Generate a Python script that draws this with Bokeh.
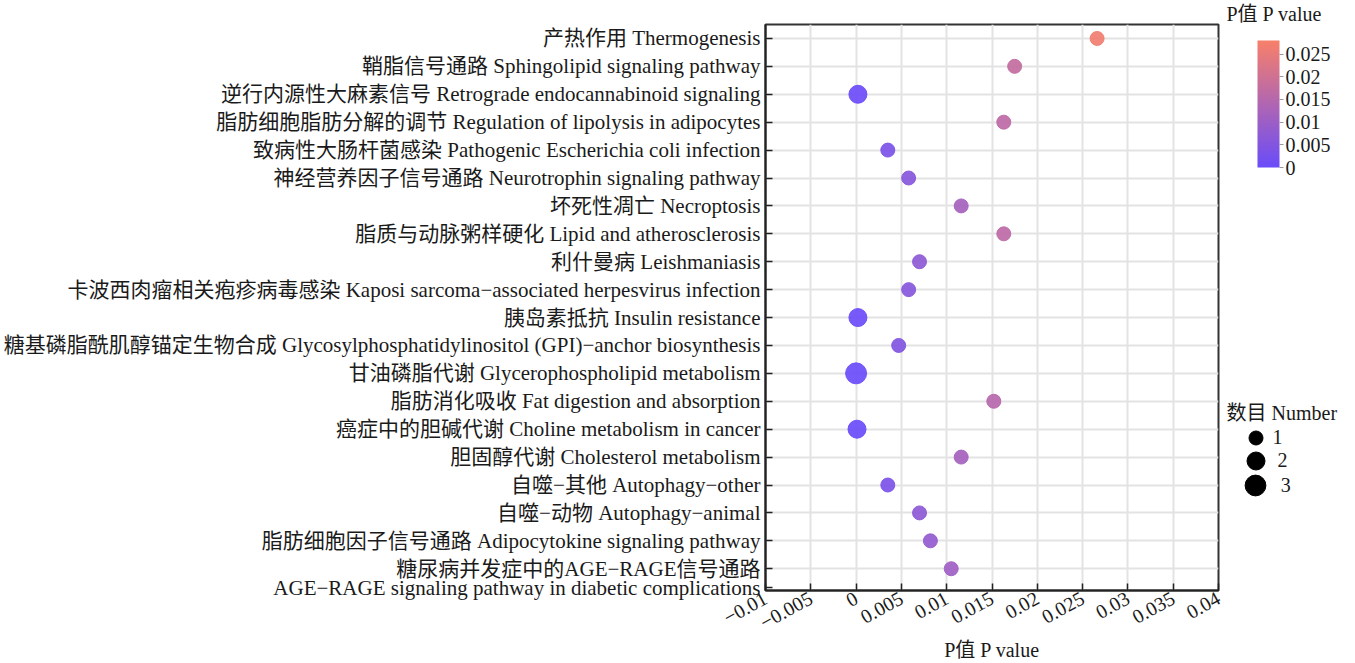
from bokeh.plotting import figure
from bokeh.layouts import row
from bokeh.models import (Range1d, FixedTicker, LinearColorMapper, ColorBar, Label,
                          Legend, LegendItem, ColumnDataSource)
from bokeh.transform import transform
from bokeh.embed import file_html
from bokeh.resources import INLINE

# ---------------- data ----------------
pathways = [
    "产热作用 Thermogenesis",
    "鞘脂信号通路 Sphingolipid signaling pathway",
    "逆行内源性大麻素信号 Retrograde endocannabinoid signaling",
    "脂肪细胞脂肪分解的调节 Regulation of lipolysis in adipocytes",
    "致病性大肠杆菌感染 Pathogenic Escherichia coli infection",
    "神经营养因子信号通路 Neurotrophin signaling pathway",
    "坏死性凋亡 Necroptosis",
    "脂质与动脉粥样硬化 Lipid and atherosclerosis",
    "利什曼病 Leishmaniasis",
    "卡波西肉瘤相关疱疹病毒感染 Kaposi sarcoma−associated herpesvirus infection",
    "胰岛素抵抗 Insulin resistance",
    "糖基磷脂酰肌醇锚定生物合成 Glycosylphosphatidylinositol (GPI)−anchor biosynthesis",
    "甘油磷脂代谢 Glycerophospholipid metabolism",
    "脂肪消化吸收 Fat digestion and absorption",
    "癌症中的胆碱代谢 Choline metabolism in cancer",
    "胆固醇代谢 Cholesterol metabolism",
    "自噬−其他 Autophagy−other",
    "自噬−动物 Autophagy−animal",
    "脂肪细胞因子信号通路 Adipocytokine signaling pathway",
    "糖尿病并发症中的AGE−RAGE信号通路",
]
last_label_second_line = "AGE−RAGE signaling pathway in diabetic complications"
p_values = [0.0266, 0.0175, 0.0002, 0.0163, 0.0035, 0.0058, 0.0116, 0.0163, 0.0070, 0.0058,
            0.0002, 0.0047, 0.0000, 0.0152, 0.0001, 0.0116, 0.0035, 0.0070, 0.0082, 0.0105]
counts = [1, 1, 2, 1, 1, 1, 1, 1, 1, 1, 2, 1, 3, 1, 2, 1, 1, 1, 1, 1]

x_ticks = [-0.01, -0.005, 0, 0.005, 0.01, 0.015, 0.02, 0.025, 0.03, 0.035, 0.04]
x_tick_labels = ["−0.01", "−0.005", "0", "0.005", "0.01", "0.015", "0.02", "0.025", "0.03", "0.035", "0.04"]
cb_ticks = [0, 0.005, 0.01, 0.015, 0.02, 0.025]
cb_tick_labels = ["0", "0.005", "0.01", "0.015", "0.02", "0.025"]
legend_counts = [1, 2, 3]

# ---------------- style ----------------
FONT = "Liberation Serif, Noto Sans CJK SC"
TXT = "#1a1a1a"
FS = "20px"
size_px = {1: 14, 2: 18, 3: 21}
H = 663
TOP, BOTTOM = 24, 70
B = H - BOTTOM  # frame bottom on the page
FRAME_RIGHT = 1218
X0 = 1226  # left edge of the legend panel on the page

def interp_palette(c0, c1, n=256):
    a = [int(c0[i:i + 2], 16) for i in (1, 3, 5)]
    b = [int(c1[i:i + 2], 16) for i in (1, 3, 5)]
    out = []
    for k in range(n):
        t = k / (n - 1)
        out.append("#%02x%02x%02x" % tuple(round(a[j] + (b[j] - a[j]) * t) for j in range(3)))
    return out

palette = interp_palette("#6a4cfa", "#f8806a")
mapper = LinearColorMapper(palette=palette, low=0, high=0.028)

n = len(pathways)
ys = [n - i for i in range(n)]
src = ColumnDataSource(dict(y=ys, p=p_values, count=counts,
                            size=[size_px[c] for c in counts], name=pathways))

p = figure(width=X0, height=H, output_backend="svg", toolbar_location=None,
           x_range=Range1d(-0.01, 0.04), y_range=Range1d(0.22, n + 0.5),
           min_border_left=763, min_border_right=X0 - FRAME_RIGHT, min_border_top=TOP,
           min_border_bottom=BOTTOM)
p.background_fill_color = "white"
p.border_fill_color = "white"
p.outline_line_color = "#333333"
p.outline_line_width = 2

p.scatter(x="p", y="y", size="size", source=src, marker="circle",
          fill_color=transform("p", mapper), line_color=transform("p", mapper),
          fill_alpha=0.92, line_alpha=0.92)

for ax in (p.xaxis[0], p.yaxis[0]):
    ax.axis_line_color = "#222222"
    ax.axis_line_width = 2
    ax.major_tick_in = 7
    ax.major_tick_out = 0
    ax.major_tick_line_color = "#222222"
    ax.major_tick_line_width = 1.5
    ax.minor_tick_line_color = None
    ax.major_label_text_font = FONT
    ax.major_label_text_color = TXT

second_line_y = ys[-1] - 0.68
y_ticks = ys + [second_line_y]
overrides = {y: nm for y, nm in zip(ys, pathways)}
overrides[second_line_y] = last_label_second_line
p.yaxis.ticker = FixedTicker(ticks=y_ticks)
p.yaxis.major_label_overrides = overrides
p.yaxis.major_label_text_font_size = "21px"
p.yaxis.major_label_standoff = 5

p.xaxis.ticker = FixedTicker(ticks=x_ticks)
p.xaxis.major_label_overrides = {t: s for t, s in zip(x_ticks, x_tick_labels)}
p.xaxis.major_label_text_font_size = FS
p.xaxis.major_label_orientation = 0.5
p.xaxis.major_label_standoff = 6
p.xaxis.axis_label = "P值 P value"
p.xaxis.axis_label_text_font = FONT
p.xaxis.axis_label_text_font_style = "normal"
p.xaxis.axis_label_text_font_size = FS
p.xaxis.axis_label_text_color = TXT
p.xaxis.axis_label_standoff = 0

p.xgrid.ticker = FixedTicker(ticks=x_ticks)
p.ygrid.ticker = FixedTicker(ticks=ys)
for g in (p.xgrid[0], p.ygrid[0]):
    g.grid_line_color = "#e3e3e3"
    g.grid_line_width = 2

# ---------------- right-hand legend panel ----------------
q = figure(width=1353 - X0, height=H, output_backend="svg", toolbar_location=None,
           x_range=Range1d(100, 101), y_range=Range1d(100, 101),
           x_axis_location=None, y_axis_location=None,
           min_border_left=0, min_border_right=0, min_border_top=TOP, min_border_bottom=BOTTOM,
           title="P值 P value")
q.outline_line_color = None
q.grid.visible = False
q.background_fill_color = "white"
q.border_fill_color = "white"
q.title.text_font = FONT
q.title.text_font_size = FS
q.title.text_font_style = "normal"
q.title.text_color = TXT
q.title.align = "left"
q.title.offset = 0
q.title.standoff = 0

def fy(screen_y):
    return B - screen_y

cb = ColorBar(color_mapper=mapper, ticker=FixedTicker(ticks=cb_ticks),
              major_label_overrides={t: s for t, s in zip(cb_ticks, cb_tick_labels)},
              width=22, height=127, padding=0, location=(1257 - X0, fy(170)),
              major_tick_in=0, major_tick_out=4, major_tick_line_color="#999999",
              label_standoff=2, major_label_text_font=FONT, major_label_text_font_size=FS,
              major_label_text_color=TXT, background_fill_alpha=0, bar_line_color=None)
q.add_layout(cb, "center")

q.add_layout(Label(x=1226 - X0, y=fy(415), x_units="screen", y_units="screen",
                   text="数目 Number", text_font=FONT, text_font_size=FS, text_color=TXT,
                   text_baseline="middle", text_align="left"), "center")

centers_y = [440, 463, 488]
for c, cy in zip(legend_counts, centers_y):
    r = q.scatter(x=[c], y=[c], marker="circle", size=size_px[c],
                  fill_color="black", line_color="black")
    G = size_px[c] / 0.4
    lx = 1255 - G / 2 - X0
    yb = fy(cy + G / 2)
    lg = Legend(items=[LegendItem(label=str(c), renderers=[r])],
                location=(lx, yb), padding=0, margin=0, spacing=0,
                glyph_width=int(round(G)), glyph_height=int(round(G)),
                label_standoff=int(round(17 - G / 2)),
                label_text_font=FONT, label_text_font_size=FS, label_text_color=TXT,
                border_line_alpha=0, background_fill_alpha=0)
    q.add_layout(lg, "center")

layout = row(p, q, spacing=0)
open("out.html", "w").write(file_html(layout, INLINE))
